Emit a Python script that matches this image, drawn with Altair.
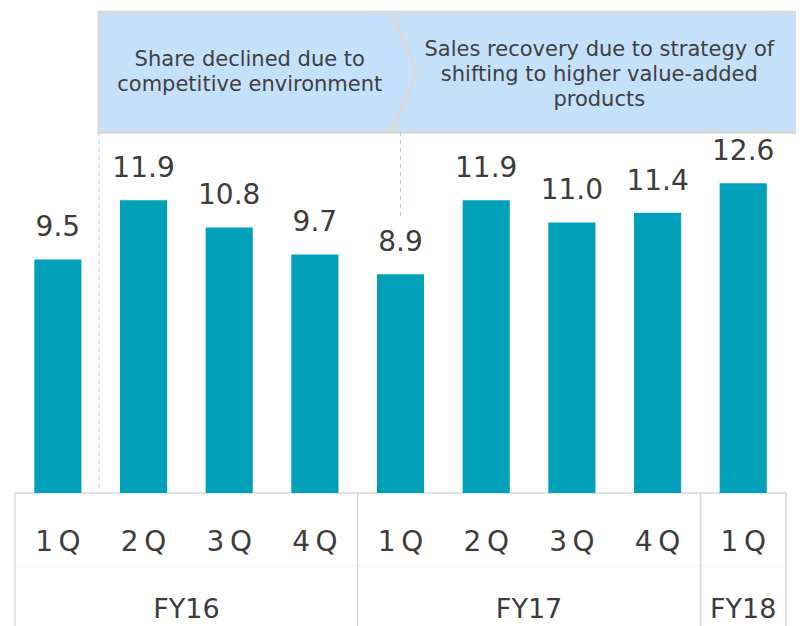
import altair as alt
import pandas as pd

# ---- data ----
quarters = ["1Q", "2Q", "3Q", "4Q", "1Q", "2Q", "3Q", "4Q", "1Q"]
values = [9.5, 11.9, 10.8, 9.7, 8.9, 11.9, 11.0, 11.4, 12.6]
fiscal_years = ["FY16", "FY17", "FY18"]
fy_first_q = [0, 4, 8]     # index of first quarter of each fiscal year
fy_last_q = [4, 8, 9]      # index after last quarter
note_lines = [
    ["Share declined due to", "competitive environment"],
    ["Sales recovery due to strategy of", "shifting to higher value-added", "products"],
]

# ---- layout (in data units: x = quarter index, y = value) ----
X_MIN, X_MAX = -0.082, 9.116
Y_MIN, Y_MAX = -5.405, 19.72
BAR_HALF = 0.275
BOX_TOP, BOX_MID, BOX_BOT = 19.55, 17.11, 14.67
QLABEL_Y, FYLABEL_Y, ROW_SEP_Y = -2.03, -4.76, -2.97

BAR_COLOR = "#00a0b9"
TEXT_COLOR = "#3c3c3c"
GRID_COLOR = "#d9d9d9"
BOX_FILL = "#c4e0fa"
DASH_COLOR = "#9ccaf6"
FONT = "DejaVu Sans"

xs = alt.Scale(domain=[X_MIN, X_MAX], nice=False, zero=False)
ys = alt.Scale(domain=[Y_MIN, Y_MAX], nice=False, zero=False)

bars_df = pd.DataFrame({
    "q": [q[0] + "\u2009" + q[1:] for q in quarters],
    "value": values,
    "xc": [i + 0.5 for i in range(len(values))],
})
bars_df["x0"] = bars_df["xc"] - BAR_HALF
bars_df["x1"] = bars_df["xc"] + BAR_HALF
bars_df["base"] = 0.0
bars_df["qy"] = QLABEL_Y

bars = alt.Chart(bars_df).mark_bar(color=BAR_COLOR).encode(
    x=alt.X("x0:Q", scale=xs, axis=None),
    x2="x1:Q",
    y=alt.Y("value:Q", scale=ys, axis=None),
    y2="base:Q",
)
value_labels = alt.Chart(bars_df).mark_text(
    font=FONT, fontSize=28, color=TEXT_COLOR, baseline="alphabetic", dy=-23
).encode(
    x=alt.X("xc:Q", scale=xs, axis=None),
    y=alt.Y("value:Q", scale=ys, axis=None),
    text=alt.Text("value:Q", format=".1f"),
)
q_labels = alt.Chart(bars_df).mark_text(
    font=FONT, fontSize=28, color=TEXT_COLOR, baseline="middle"
).encode(
    x=alt.X("xc:Q", scale=xs, axis=None),
    y=alt.Y("qy:Q", scale=ys, axis=None),
    text="q:N",
)

# table
fy_df = pd.DataFrame({"fy": fiscal_years, "s": fy_first_q, "e": fy_last_q})
fy_df["xc"] = (fy_df["s"] + fy_df["e"]) / 2
fy_df["fyy"] = FYLABEL_Y
fy_labels = alt.Chart(fy_df).mark_text(
    font=FONT, fontSize=27, color=TEXT_COLOR, baseline="middle"
).encode(
    x=alt.X("xc:Q", scale=xs, axis=None),
    y=alt.Y("fyy:Q", scale=ys, axis=None),
    text="fy:N",
)
vlines_df = pd.DataFrame({"x": sorted(set(fy_first_q + fy_last_q)), "y0": 0.0, "y1": Y_MIN})
vlines = alt.Chart(vlines_df).mark_rule(color=GRID_COLOR, strokeWidth=1.5).encode(
    x=alt.X("x:Q", scale=xs, axis=None),
    y=alt.Y("y0:Q", scale=ys, axis=None),
    y2="y1:Q",
)
hlines_df = pd.DataFrame({"x0": [0, 0], "x1": [len(values)] * 2, "y": [0.0, ROW_SEP_Y],
                          "c": [GRID_COLOR, "#f6f6f6"]})
hlines = alt.Chart(hlines_df).mark_rule(strokeWidth=1.5).encode(
    x=alt.X("x0:Q", scale=xs, axis=None),
    x2="x1:Q",
    y=alt.Y("y:Q", scale=ys, axis=None),
    color=alt.Color("c:N", scale=None),
)

# chevron boxes
box_rows = []
for b, (l_edge, l_mid, r_edge, r_tip) in enumerate([(0.98, 0.98, 4.38, 4.70), (4.41, 4.69, 9.14, 9.47)]):
    for yy, xl, xr in [(BOX_TOP, l_edge, r_edge), (BOX_MID, l_mid, r_tip), (BOX_BOT, l_edge, r_edge)]:
        box_rows.append({"box": b, "y": yy, "xl": xl, "xr": xr})
boxes_df = pd.DataFrame(box_rows)
boxes = alt.Chart(boxes_df).mark_area(
    orient="horizontal", fill=BOX_FILL, stroke=GRID_COLOR, strokeWidth=3, opacity=1
).encode(
    y=alt.Y("y:Q", scale=ys, axis=None),
    x=alt.X("xl:Q", scale=xs, axis=None),
    x2="xr:Q",
    detail="box:N",
)

dash_df = pd.DataFrame({"x": [0.98, 4.50], "y0": [BOX_BOT, BOX_BOT], "y1": [0.0, 11.22]})
dashes = alt.Chart(dash_df).mark_rule(color=DASH_COLOR, strokeWidth=1, strokeDash=[4, 4]).encode(
    x=alt.X("x:Q", scale=xs, axis=None),
    y=alt.Y("y0:Q", scale=ys, axis=None),
    y2="y1:Q",
)

# y of each note is the centre of its first line
notes_df = pd.DataFrame({
    "txt": ["\n".join(l) for l in note_lines],
    "x": [2.74, 6.82],
    "y": [17.62, 18.03],
})
notes = alt.Chart(notes_df).mark_text(
    font=FONT, fontSize=21, color="#404040", lineBreak="\n", lineHeight=25, baseline="middle"
).encode(
    x=alt.X("x:Q", scale=xs, axis=None),
    y=alt.Y("y:Q", scale=ys, axis=None),
    text="txt:N",
)

chart = alt.layer(
    boxes, dashes, hlines, vlines, bars, value_labels, q_labels, fy_labels, notes
).properties(
    width=788, height=618, padding=0, autosize="none"
).configure_view(stroke=None)

chart.save("out.html", embed_options={"renderer": "svg", "actions": False})
